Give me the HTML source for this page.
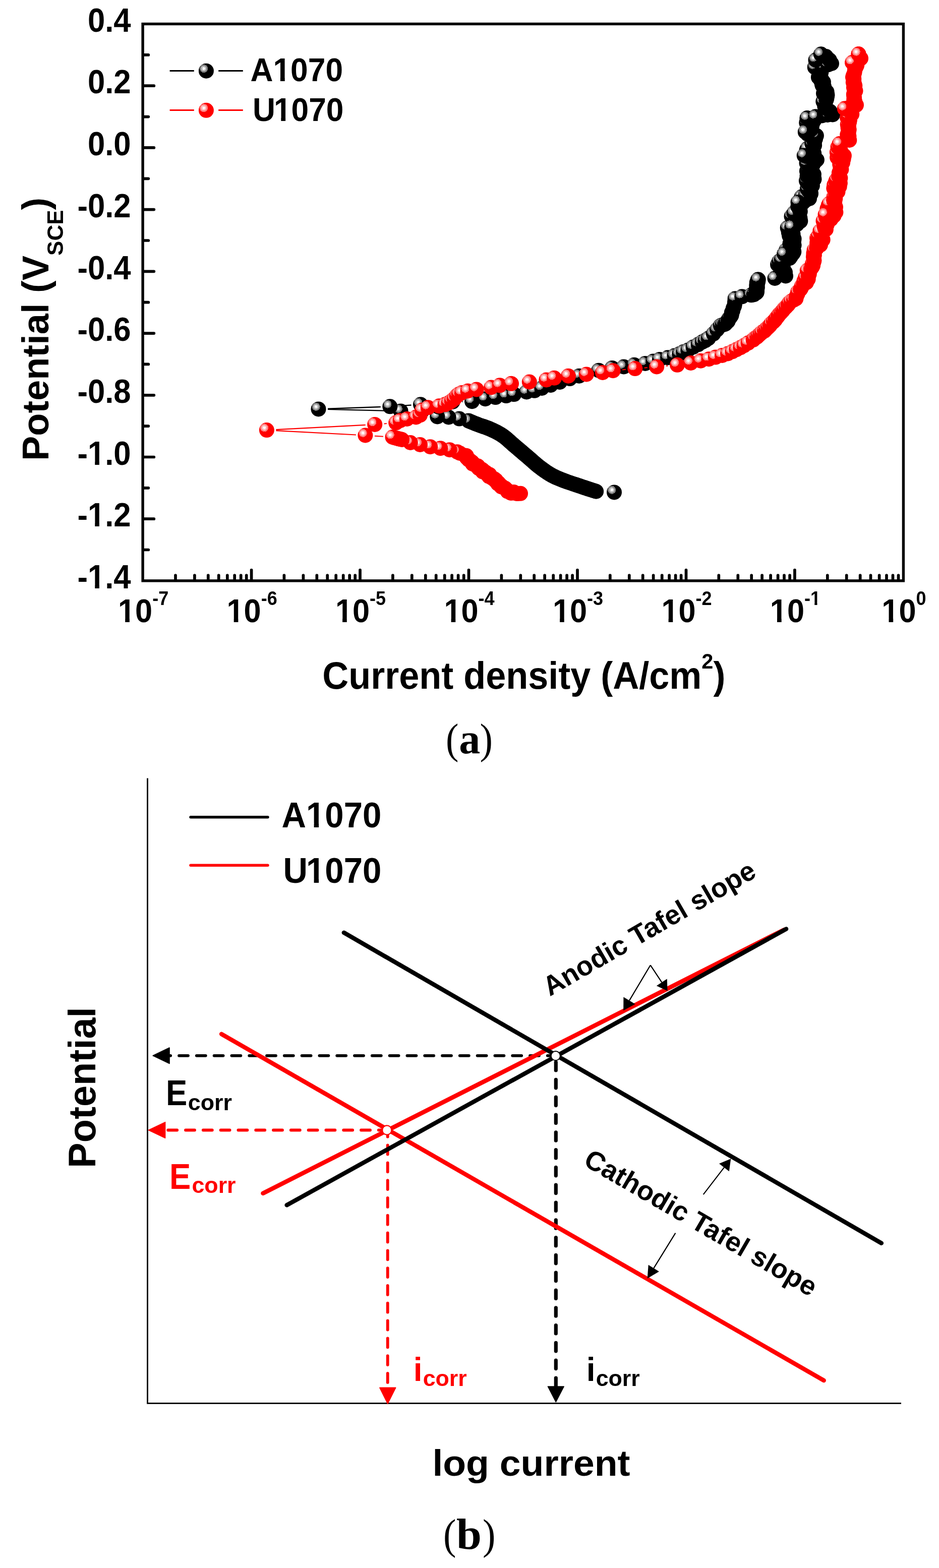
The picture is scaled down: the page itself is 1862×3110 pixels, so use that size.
<!DOCTYPE html>
<html lang="en"><head><meta charset="utf-8"><title>Potentiodynamic polarization curves and Tafel schematic</title>
<style>html,body{margin:0;padding:0;background:#fff}body{width:1862px;height:3110px;overflow:hidden}svg{display:block}text{font-family:'Liberation Sans', Arial, Helvetica, sans-serif;font-weight:bold}.serif text{font-family:'Liberation Serif', 'Times New Roman', serif}.nk{font-kerning:none}</style>
</head><body>
<svg width="1862" height="3110" viewBox="0 0 1862 3110">
<defs>
<radialGradient id="gk" gradientUnits="objectBoundingBox" cx="0.34" cy="0.343" fx="0.34" fy="0.343" r="0.272"><stop offset="0" stop-color="#fff"/><stop offset="0.32" stop-color="#fff"/><stop offset="0.32" stop-color="#c0c0c0"/><stop offset="0.65" stop-color="#c0c0c0"/><stop offset="0.65" stop-color="#808080"/><stop offset="0.975" stop-color="#808080"/><stop offset="0.975" stop-color="#000"/></radialGradient>
<radialGradient id="gr" gradientUnits="objectBoundingBox" cx="0.34" cy="0.343" fx="0.34" fy="0.343" r="0.272"><stop offset="0" stop-color="#fff"/><stop offset="0.32" stop-color="#fff"/><stop offset="0.32" stop-color="#ffc0c0"/><stop offset="0.65" stop-color="#ffc0c0"/><stop offset="0.65" stop-color="#ff8080"/><stop offset="0.975" stop-color="#ff8080"/><stop offset="0.975" stop-color="#f00"/></radialGradient>
</defs>
<rect x="0" y="0" width="1862" height="3110" fill="#fff"/>
<g id="chart-a">
<path d="M849 823.7L812.9 818.2M776.1 814.9L650 811.9M650 810.7L754.8 807M791.8 805.1L815.5 803.5M916 796.5L917.5 796.5M1166.2 740.7L1169.4 739.7" stroke="#000" stroke-width="2.4" fill="none" stroke-linecap="butt"/>
<g fill="url(#gk)"><circle cx="1218" cy="976.4" r="15"/><circle cx="1182.1" cy="974.7" r="15"/><circle cx="1180" cy="974" r="15"/><circle cx="1177.4" cy="973.2" r="15"/><circle cx="1175" cy="972.4" r="15"/><circle cx="1172.1" cy="971.5" r="15"/><circle cx="1169.6" cy="970.7" r="15"/><circle cx="1166.9" cy="969.8" r="15"/><circle cx="1163.8" cy="968.8" r="15"/><circle cx="1160.3" cy="967.6" r="15"/><circle cx="1157.7" cy="966.8" r="15"/><circle cx="1155.1" cy="965.9" r="15"/><circle cx="1152.4" cy="965" r="15"/><circle cx="1149.8" cy="964.1" r="15"/><circle cx="1147.1" cy="963.2" r="15"/><circle cx="1144.5" cy="962.3" r="15"/><circle cx="1142" cy="961.5" r="15"/><circle cx="1139.6" cy="960.7" r="15"/><circle cx="1137.2" cy="959.9" r="15"/><circle cx="1133.6" cy="958.7" r="15"/><circle cx="1130.1" cy="957.5" r="15"/><circle cx="1126.6" cy="956.4" r="15"/><circle cx="1123.1" cy="955.1" r="15"/><circle cx="1120.7" cy="954.2" r="15"/><circle cx="1118.3" cy="953.3" r="15"/><circle cx="1115.9" cy="952.4" r="15"/><circle cx="1113.5" cy="951.4" r="15"/><circle cx="1111.1" cy="950.5" r="15"/><circle cx="1108.6" cy="949.5" r="15"/><circle cx="1106.2" cy="948.5" r="15"/><circle cx="1103.7" cy="947.4" r="15"/><circle cx="1101.3" cy="946.3" r="15"/><circle cx="1098.9" cy="945.1" r="15"/><circle cx="1096.4" cy="943.9" r="15"/><circle cx="1094" cy="942.6" r="15"/><circle cx="1091.6" cy="941.2" r="15"/><circle cx="1089.2" cy="939.8" r="15"/><circle cx="1086.7" cy="938.2" r="15"/><circle cx="1084.3" cy="936.7" r="15"/><circle cx="1081.9" cy="935" r="15"/><circle cx="1079.5" cy="933.3" r="15"/><circle cx="1077.1" cy="931.6" r="15"/><circle cx="1074.6" cy="929.8" r="15"/><circle cx="1072.2" cy="928" r="15"/><circle cx="1069.8" cy="926.2" r="15"/><circle cx="1067.4" cy="924.3" r="15"/><circle cx="1065" cy="922.3" r="15"/><circle cx="1062.5" cy="920.3" r="15"/><circle cx="1060.1" cy="918.2" r="15"/><circle cx="1057.7" cy="916.1" r="15"/><circle cx="1055.3" cy="914" r="15"/><circle cx="1052.9" cy="911.8" r="15"/><circle cx="1050.4" cy="909.7" r="15"/><circle cx="1048" cy="907.6" r="15"/><circle cx="1045.6" cy="905.5" r="15"/><circle cx="1043.2" cy="903.4" r="15"/><circle cx="1040.7" cy="901.4" r="15"/><circle cx="1038.3" cy="899.3" r="15"/><circle cx="1035.9" cy="897.3" r="15"/><circle cx="1033.5" cy="895.2" r="15"/><circle cx="1031" cy="893.1" r="15"/><circle cx="1028.6" cy="891.1" r="15"/><circle cx="1026.2" cy="889" r="15"/><circle cx="1023.7" cy="887" r="15"/><circle cx="1021.3" cy="884.9" r="15"/><circle cx="1018.9" cy="882.8" r="15"/><circle cx="1016.4" cy="880.7" r="15"/><circle cx="1014" cy="878.5" r="15"/><circle cx="1011.6" cy="876.3" r="15"/><circle cx="1009.1" cy="874.1" r="15"/><circle cx="1006.7" cy="872" r="15"/><circle cx="1004.3" cy="869.9" r="15"/><circle cx="1001.9" cy="867.9" r="15"/><circle cx="999.4" cy="866" r="15"/><circle cx="997" cy="864.3" r="15"/><circle cx="994.6" cy="862.7" r="15"/><circle cx="992.2" cy="861.2" r="15"/><circle cx="989.7" cy="859.7" r="15"/><circle cx="987.3" cy="858.4" r="15"/><circle cx="984.9" cy="857.1" r="15"/><circle cx="982.5" cy="855.9" r="15"/><circle cx="980.1" cy="854.7" r="15"/><circle cx="977.6" cy="853.6" r="15"/><circle cx="975.2" cy="852.5" r="15"/><circle cx="972.8" cy="851.4" r="15"/><circle cx="970.4" cy="850.3" r="15"/><circle cx="967.9" cy="849.3" r="15"/><circle cx="965.4" cy="848.4" r="15"/><circle cx="962.9" cy="847.5" r="15"/><circle cx="960.4" cy="846.6" r="15"/><circle cx="957.9" cy="845.8" r="15"/><circle cx="955.4" cy="845" r="15"/><circle cx="953.1" cy="844.2" r="15"/><circle cx="949.6" cy="842.9" r="15"/><circle cx="946.3" cy="841.6" r="15"/><circle cx="942.8" cy="840.3" r="15"/><circle cx="939.4" cy="838.9" r="15"/><circle cx="936.2" cy="837.6" r="15"/><circle cx="933.3" cy="836.4" r="15"/><circle cx="930.8" cy="835.3" r="15"/><circle cx="929" cy="834.6" r="15"/><circle cx="910.8" cy="830.6" r="15"/><circle cx="889.6" cy="827.5" r="15"/><circle cx="867.3" cy="826.5" r="15"/><circle cx="794.6" cy="815.4" r="15"/><circle cx="631.5" cy="811.4" r="15"/><circle cx="773.3" cy="806.3" r="15"/><circle cx="834" cy="802.3" r="15"/><circle cx="869.5" cy="807" r="15"/><circle cx="897.5" cy="796.8" r="15"/><circle cx="936" cy="796.2" r="15"/><circle cx="962.3" cy="791.2" r="15"/><circle cx="982.6" cy="788.1" r="15"/><circle cx="1003.8" cy="785.1" r="15"/><circle cx="1019.4" cy="782.1" r="15"/><circle cx="1044.2" cy="777.4" r="15"/><circle cx="1059.8" cy="774.8" r="15"/><circle cx="1074.4" cy="769.9" r="15"/><circle cx="1092" cy="764" r="15"/><circle cx="1110" cy="758" r="15"/><circle cx="1130" cy="751" r="15"/><circle cx="1148.4" cy="745.7" r="15"/><circle cx="1187.2" cy="734.7" r="15"/><circle cx="1213.9" cy="729.9" r="15"/><circle cx="1236.9" cy="727.5" r="15"/><circle cx="1257.6" cy="723.8" r="15"/><circle cx="1279.4" cy="720.9" r="15"/><circle cx="1295.2" cy="716.6" r="15"/><circle cx="1308" cy="712.9" r="15"/><circle cx="1324.3" cy="709.3" r="15"/><circle cx="1337.6" cy="705.6" r="15"/><circle cx="1347.3" cy="702" r="15"/><circle cx="1355" cy="698" r="15"/><circle cx="1364.2" cy="694.5" r="15"/><circle cx="1374.4" cy="688.4" r="15"/><circle cx="1384.5" cy="683.3" r="15"/><circle cx="1392.5" cy="678.3" r="15"/><circle cx="1398.6" cy="675.3" r="15"/><circle cx="1404.7" cy="671.2" r="15"/><circle cx="1414.8" cy="662.1" r="15"/><circle cx="1421.9" cy="654" r="15"/><circle cx="1428.9" cy="645.9" r="15"/><circle cx="1432.9" cy="644.5" r="15"/><circle cx="1437.1" cy="643.2" r="15"/><circle cx="1439" cy="641.8" r="15"/><circle cx="1440.5" cy="639.7" r="15"/><circle cx="1443.7" cy="637.1" r="15"/><circle cx="1444.2" cy="634.4" r="15"/><circle cx="1445.8" cy="631.4" r="15"/><circle cx="1448.6" cy="628.6" r="15"/><circle cx="1450.5" cy="625.5" r="15"/><circle cx="1450.9" cy="622.5" r="15"/><circle cx="1450.9" cy="619.6" r="15"/><circle cx="1453" cy="616.6" r="15"/><circle cx="1453.4" cy="613.8" r="15"/><circle cx="1454.2" cy="610.5" r="15"/><circle cx="1456" cy="607.6" r="15"/><circle cx="1456.7" cy="604.5" r="15"/><circle cx="1456.9" cy="601.5" r="15"/><circle cx="1457.2" cy="598.2" r="15"/><circle cx="1458.7" cy="594.8" r="15"/><circle cx="1458.4" cy="592.4" r="15"/><circle cx="1457.6" cy="592.4" r="15"/><circle cx="1471.4" cy="588.3" r="15"/><circle cx="1489.6" cy="585.3" r="15"/><circle cx="1494.6" cy="584.5" r="15"/><circle cx="1496.2" cy="583" r="15"/><circle cx="1498.9" cy="581.5" r="15"/><circle cx="1500.7" cy="580" r="15"/><circle cx="1501.1" cy="577.2" r="15"/><circle cx="1499.4" cy="574.5" r="15"/><circle cx="1501.5" cy="571.7" r="15"/><circle cx="1501.8" cy="568.9" r="15"/><circle cx="1500.2" cy="566.1" r="15"/><circle cx="1501.8" cy="563.4" r="15"/><circle cx="1500.7" cy="560.6" r="15"/><circle cx="1503.2" cy="558.6" r="15"/><circle cx="1502.2" cy="556.6" r="15"/><circle cx="1502.9" cy="554.6" r="15"/><circle cx="1503.7" cy="554.6" r="15"/><circle cx="1536.5" cy="552" r="15"/><circle cx="1558" cy="547.5" r="15"/><circle cx="1557" cy="540" r="15"/><circle cx="1553" cy="531" r="15"/><circle cx="1542.1" cy="524.7" r="15"/><circle cx="1550.2" cy="525" r="15"/><circle cx="1553.5" cy="521.8" r="15"/><circle cx="1544.9" cy="518.6" r="15"/><circle cx="1549.8" cy="515.4" r="15"/><circle cx="1565.7" cy="512.2" r="15"/><circle cx="1568" cy="509" r="15"/><circle cx="1566.1" cy="505.8" r="15"/><circle cx="1572.6" cy="502.6" r="15"/><circle cx="1574.3" cy="499.4" r="15"/><circle cx="1559" cy="496.2" r="15"/><circle cx="1568.1" cy="493" r="15"/><circle cx="1573" cy="489.8" r="15"/><circle cx="1574.6" cy="486.6" r="15"/><circle cx="1566.4" cy="483.4" r="15"/><circle cx="1568.7" cy="480.2" r="15"/><circle cx="1574.1" cy="477" r="15"/><circle cx="1574.6" cy="473.8" r="15"/><circle cx="1566.7" cy="470.6" r="15"/><circle cx="1565.1" cy="467.4" r="15"/><circle cx="1572.5" cy="464.2" r="15"/><circle cx="1563.8" cy="461" r="15"/><circle cx="1563.6" cy="457.8" r="15"/><circle cx="1569.2" cy="454.6" r="15"/><circle cx="1569.6" cy="451.4" r="15"/><circle cx="1568.5" cy="448.2" r="15"/><circle cx="1580.4" cy="445" r="15"/><circle cx="1580.5" cy="441.8" r="15"/><circle cx="1587.3" cy="438.6" r="15"/><circle cx="1573.8" cy="435.4" r="15"/><circle cx="1586.4" cy="432.2" r="15"/><circle cx="1569.5" cy="429" r="15"/><circle cx="1580.8" cy="425.8" r="15"/><circle cx="1574.4" cy="422.6" r="15"/><circle cx="1586.8" cy="419.4" r="15"/><circle cx="1585.8" cy="416.2" r="15"/><circle cx="1585.8" cy="413" r="15"/><circle cx="1582.3" cy="409.8" r="15"/><circle cx="1588.1" cy="406.6" r="15"/><circle cx="1590.8" cy="403.4" r="15"/><circle cx="1593.9" cy="400.2" r="15"/><circle cx="1597.8" cy="397" r="15"/><circle cx="1605" cy="393.8" r="15"/><circle cx="1589.5" cy="390.6" r="15"/><circle cx="1597.7" cy="387.4" r="15"/><circle cx="1608" cy="384.2" r="15"/><circle cx="1607.5" cy="381" r="15"/><circle cx="1603.2" cy="377.8" r="15"/><circle cx="1600.9" cy="374.6" r="15"/><circle cx="1607.2" cy="371.4" r="15"/><circle cx="1610.9" cy="368.2" r="15"/><circle cx="1607.8" cy="365" r="15"/><circle cx="1600.6" cy="361.8" r="15"/><circle cx="1598.9" cy="358.6" r="15"/><circle cx="1614.5" cy="355.4" r="15"/><circle cx="1606.8" cy="352.2" r="15"/><circle cx="1600.5" cy="349" r="15"/><circle cx="1613.9" cy="345.8" r="15"/><circle cx="1611.6" cy="342.6" r="15"/><circle cx="1599.9" cy="339.4" r="15"/><circle cx="1601.3" cy="336.2" r="15"/><circle cx="1609" cy="333" r="15"/><circle cx="1603.7" cy="329.8" r="15"/><circle cx="1612.3" cy="326.6" r="15"/><circle cx="1599.5" cy="323.4" r="15"/><circle cx="1616.4" cy="320.2" r="15"/><circle cx="1619.9" cy="317" r="15"/><circle cx="1613.5" cy="313.8" r="15"/><circle cx="1600.9" cy="310.6" r="15"/><circle cx="1596.7" cy="307.4" r="15"/><circle cx="1614.2" cy="304.2" r="15"/><circle cx="1610.3" cy="301" r="15"/><circle cx="1599.5" cy="297.8" r="15"/><circle cx="1601.3" cy="294.6" r="15"/><circle cx="1612.9" cy="291.4" r="15"/><circle cx="1615.1" cy="288.2" r="15"/><circle cx="1610.2" cy="285" r="15"/><circle cx="1614.8" cy="281.8" r="15"/><circle cx="1615.4" cy="278.6" r="15"/><circle cx="1617" cy="275.4" r="15"/><circle cx="1610.4" cy="272.2" r="15"/><circle cx="1618.9" cy="269" r="15"/><circle cx="1601.4" cy="265.8" r="15"/><circle cx="1602.5" cy="262.6" r="15"/><circle cx="1599.8" cy="259.4" r="15"/><circle cx="1609" cy="256.2" r="15"/><circle cx="1602.8" cy="253" r="15"/><circle cx="1610.1" cy="249.8" r="15"/><circle cx="1601.7" cy="246.6" r="15"/><circle cx="1599.2" cy="243.4" r="15"/><circle cx="1613.5" cy="240.2" r="15"/><circle cx="1615.3" cy="237" r="15"/><circle cx="1600.6" cy="234.3" r="15"/><circle cx="1617.2" cy="231.5" r="15"/><circle cx="1630" cy="229.5" r="15"/><circle cx="1641" cy="228" r="15"/><circle cx="1651" cy="227.5" r="15"/><circle cx="1646" cy="221" r="15"/><circle cx="1637" cy="214" r="15"/><circle cx="1635.3" cy="210.8" r="15"/><circle cx="1636.4" cy="207.6" r="15"/><circle cx="1635.7" cy="204.4" r="15"/><circle cx="1632.3" cy="201.2" r="15"/><circle cx="1638.5" cy="198" r="15"/><circle cx="1639.4" cy="194.8" r="15"/><circle cx="1639.8" cy="191.6" r="15"/><circle cx="1640.5" cy="188.4" r="15"/><circle cx="1633" cy="185.2" r="15"/><circle cx="1639.6" cy="182" r="15"/><circle cx="1634.6" cy="178.8" r="15"/><circle cx="1633.8" cy="175.6" r="15"/><circle cx="1634.2" cy="172.4" r="15"/><circle cx="1630.5" cy="169.2" r="15"/><circle cx="1629.8" cy="166" r="15"/><circle cx="1632.9" cy="162.8" r="15"/><circle cx="1627.5" cy="159.6" r="15"/><circle cx="1628.8" cy="156.4" r="15"/><circle cx="1622.9" cy="153.2" r="15"/><circle cx="1623.8" cy="150" r="15"/><circle cx="1626.8" cy="146.8" r="15"/><circle cx="1628.3" cy="143.6" r="15"/><circle cx="1623.4" cy="140.4" r="15"/><circle cx="1627.1" cy="137.2" r="15"/><circle cx="1620" cy="134" r="15"/><circle cx="1615.7" cy="133.4" r="15"/><circle cx="1632" cy="131" r="15"/><circle cx="1642" cy="128.5" r="15"/><circle cx="1649" cy="126" r="15"/><circle cx="1645" cy="119" r="15"/><circle cx="1617.5" cy="119.2" r="15"/><circle cx="1638" cy="112" r="15"/><circle cx="1628" cy="107.5" r="15"/><circle cx="1555.1" cy="503.8" r="15"/><circle cx="1561.7" cy="451.9" r="15"/><circle cx="1570.2" cy="450" r="15"/><circle cx="1582.5" cy="401" r="15"/><circle cx="1594.7" cy="308.5" r="15"/><circle cx="1596.8" cy="261.7" r="15"/><circle cx="1600.6" cy="234.3" r="15"/><circle cx="1617.2" cy="231.5" r="15"/><circle cx="1628" cy="107.5" r="15"/></g>
<path d="M760 865.8L742.9 864.7M705.9 862.5L547.4 854.1M547.4 852.1L724.7 842.9M761.6 840.5L766.8 840M1234 733.5L1240.9 732.8M1277.7 729.6L1283.8 729M1320.6 725.8L1324.6 725.5" stroke="#f00" stroke-width="2.1" fill="none" stroke-linecap="butt"/>
<g fill="url(#gr)"><circle cx="1032" cy="978.8" r="15"/><circle cx="1026.2" cy="979.1" r="15"/><circle cx="1024.4" cy="978.8" r="15"/><circle cx="1019.5" cy="977.6" r="15"/><circle cx="1018.8" cy="976.1" r="15"/><circle cx="1013.4" cy="977.8" r="15"/><circle cx="1013.2" cy="977.7" r="15"/><circle cx="1006.4" cy="974.6" r="15"/><circle cx="1005.8" cy="972.3" r="15"/><circle cx="1001.9" cy="968.5" r="15"/><circle cx="996.7" cy="966.1" r="15"/><circle cx="994.1" cy="965.4" r="15"/><circle cx="993.7" cy="963.2" r="15"/><circle cx="989.5" cy="959.7" r="15"/><circle cx="987.3" cy="959.5" r="15"/><circle cx="988.3" cy="957.7" r="15"/><circle cx="981.9" cy="952.9" r="15"/><circle cx="983.2" cy="952.2" r="15"/><circle cx="980" cy="949.7" r="15"/><circle cx="976.2" cy="948.3" r="15"/><circle cx="973.7" cy="946.5" r="15"/><circle cx="969.4" cy="944.8" r="15"/><circle cx="970.6" cy="941.2" r="15"/><circle cx="966.5" cy="941" r="15"/><circle cx="963.8" cy="937.3" r="15"/><circle cx="960.3" cy="936.4" r="15"/><circle cx="957.2" cy="935.7" r="15"/><circle cx="958.2" cy="933.3" r="15"/><circle cx="955.9" cy="931.2" r="15"/><circle cx="951.3" cy="929.2" r="15"/><circle cx="949.1" cy="928.7" r="15"/><circle cx="947.9" cy="924.6" r="15"/><circle cx="945.9" cy="924.4" r="15"/><circle cx="941.8" cy="922" r="15"/><circle cx="937" cy="919.8" r="15"/><circle cx="936.2" cy="916.7" r="15"/><circle cx="933.2" cy="914.3" r="15"/><circle cx="929.2" cy="911.6" r="15"/><circle cx="925.6" cy="907.9" r="15"/><circle cx="925" cy="904" r="15"/><circle cx="922.4" cy="903.4" r="15"/><circle cx="912.1" cy="899" r="15"/><circle cx="906.8" cy="896.3" r="15"/><circle cx="891.6" cy="892.2" r="15"/><circle cx="873.4" cy="889.2" r="15"/><circle cx="853.2" cy="886.2" r="15"/><circle cx="833" cy="882" r="15"/><circle cx="813.8" cy="878" r="15"/><circle cx="797.2" cy="872" r="15"/><circle cx="795" cy="871.3" r="15"/><circle cx="791.4" cy="870.6" r="15"/><circle cx="789.1" cy="869.9" r="15"/><circle cx="786.2" cy="869.2" r="15"/><circle cx="783.9" cy="868.5" r="15"/><circle cx="781.4" cy="867.8" r="15"/><circle cx="778.5" cy="867" r="15"/><circle cx="724.4" cy="863.5" r="15"/><circle cx="528.9" cy="853.1" r="15"/><circle cx="743.2" cy="841.9" r="15"/><circle cx="785.2" cy="838.6" r="15"/><circle cx="793.5" cy="834.2" r="15"/><circle cx="807.1" cy="831" r="15"/><circle cx="824.9" cy="827.5" r="15"/><circle cx="833" cy="823.5" r="15"/><circle cx="837" cy="813.4" r="15"/><circle cx="848.7" cy="808.3" r="15"/><circle cx="870.8" cy="805.3" r="15"/><circle cx="882.5" cy="802.3" r="15"/><circle cx="889.6" cy="799.2" r="15"/><circle cx="895.7" cy="795.2" r="15"/><circle cx="900.7" cy="791.2" r="15"/><circle cx="905.8" cy="785.1" r="15"/><circle cx="909.8" cy="782.1" r="15"/><circle cx="915.9" cy="779" r="15"/><circle cx="927.6" cy="775.4" r="15"/><circle cx="944.8" cy="772.4" r="15"/><circle cx="974" cy="768.5" r="15"/><circle cx="991" cy="764.3" r="15"/><circle cx="1014" cy="760.8" r="15"/><circle cx="1049.8" cy="757.5" r="15"/><circle cx="1083.4" cy="753.4" r="15"/><circle cx="1099.1" cy="749.8" r="15"/><circle cx="1127" cy="745.7" r="15"/><circle cx="1162.9" cy="742.5" r="15"/><circle cx="1195" cy="738.9" r="15"/><circle cx="1215.6" cy="735.2" r="15"/><circle cx="1259.3" cy="731.1" r="15"/><circle cx="1302.2" cy="727.5" r="15"/><circle cx="1343" cy="723.8" r="15"/><circle cx="1369.8" cy="720" r="15"/><circle cx="1389.5" cy="715.7" r="15"/><circle cx="1405.7" cy="712.2" r="15"/><circle cx="1418.8" cy="708.6" r="15"/><circle cx="1432" cy="705" r="15"/><circle cx="1443.1" cy="701.5" r="15"/><circle cx="1452.2" cy="697.5" r="15"/><circle cx="1460.3" cy="693.5" r="15"/><circle cx="1468.3" cy="689.4" r="15"/><circle cx="1475.4" cy="685.4" r="15"/><circle cx="1483.5" cy="680.3" r="15"/><circle cx="1493.6" cy="674.2" r="15"/><circle cx="1496.2" cy="671.5" r="15"/><circle cx="1501" cy="668.4" r="15"/><circle cx="1504" cy="665.4" r="15"/><circle cx="1507.4" cy="662.3" r="15"/><circle cx="1510.9" cy="659.3" r="15"/><circle cx="1516.1" cy="656.2" r="15"/><circle cx="1519.1" cy="652.9" r="15"/><circle cx="1522.9" cy="649.4" r="15"/><circle cx="1526.6" cy="645.7" r="15"/><circle cx="1529.3" cy="641.9" r="15"/><circle cx="1534" cy="637.8" r="15"/><circle cx="1537.3" cy="634.3" r="15"/><circle cx="1539.6" cy="630.7" r="15"/><circle cx="1542.7" cy="627.1" r="15"/><circle cx="1545" cy="623.6" r="15"/><circle cx="1548.5" cy="620.1" r="15"/><circle cx="1551.9" cy="616.5" r="15"/><circle cx="1554.6" cy="612.9" r="15"/><circle cx="1558.6" cy="608.9" r="15"/><circle cx="1562.6" cy="604.7" r="15"/><circle cx="1565" cy="600.9" r="15"/><circle cx="1568.9" cy="597.4" r="15"/><circle cx="1574" cy="595" r="15"/><circle cx="1578.4" cy="592.3" r="15"/><circle cx="1579.3" cy="587.7" r="15"/><circle cx="1581.7" cy="582.8" r="15"/><circle cx="1582.1" cy="579.2" r="15"/><circle cx="1587.2" cy="574" r="15"/><circle cx="1589.2" cy="570.6" r="15"/><circle cx="1589.9" cy="567.2" r="15"/><circle cx="1593.2" cy="563.8" r="15"/><circle cx="1599" cy="560.4" r="15"/><circle cx="1594.5" cy="557" r="15"/><circle cx="1602.7" cy="553.6" r="15"/><circle cx="1597.2" cy="550.2" r="15"/><circle cx="1602.7" cy="546.8" r="15"/><circle cx="1604.8" cy="543.4" r="15"/><circle cx="1604.2" cy="540" r="15"/><circle cx="1600.8" cy="536.6" r="15"/><circle cx="1607.9" cy="533.2" r="15"/><circle cx="1610.4" cy="529.8" r="15"/><circle cx="1612.1" cy="526.4" r="15"/><circle cx="1610.9" cy="523" r="15"/><circle cx="1613.7" cy="519.6" r="15"/><circle cx="1614.5" cy="516.2" r="15"/><circle cx="1613.8" cy="512.8" r="15"/><circle cx="1612.9" cy="509.4" r="15"/><circle cx="1614.9" cy="506" r="15"/><circle cx="1613.4" cy="502.6" r="15"/><circle cx="1614.8" cy="499.2" r="15"/><circle cx="1614.6" cy="495.8" r="15"/><circle cx="1619.4" cy="492.4" r="15"/><circle cx="1621.1" cy="489" r="15"/><circle cx="1627" cy="485.6" r="15"/><circle cx="1620.2" cy="482.2" r="15"/><circle cx="1620.6" cy="478.8" r="15"/><circle cx="1631.7" cy="475.4" r="15"/><circle cx="1620.1" cy="472" r="15"/><circle cx="1623" cy="468.6" r="15"/><circle cx="1628.3" cy="465.2" r="15"/><circle cx="1630.6" cy="461.8" r="15"/><circle cx="1626.3" cy="458.4" r="15"/><circle cx="1637.9" cy="455" r="15"/><circle cx="1635.2" cy="451.6" r="15"/><circle cx="1634.5" cy="448.2" r="15"/><circle cx="1640.2" cy="444.8" r="15"/><circle cx="1638.5" cy="441.4" r="15"/><circle cx="1632.5" cy="438" r="15"/><circle cx="1647.9" cy="434.6" r="15"/><circle cx="1638.3" cy="431.2" r="15"/><circle cx="1653.7" cy="427.8" r="15"/><circle cx="1641.9" cy="424.4" r="15"/><circle cx="1657.4" cy="421" r="15"/><circle cx="1641.2" cy="417.6" r="15"/><circle cx="1640.3" cy="414.2" r="15"/><circle cx="1657" cy="410.8" r="15"/><circle cx="1642.7" cy="407.4" r="15"/><circle cx="1644.3" cy="404" r="15"/><circle cx="1655.2" cy="400.6" r="15"/><circle cx="1653.1" cy="397.2" r="15"/><circle cx="1656.3" cy="393.8" r="15"/><circle cx="1653.7" cy="390.4" r="15"/><circle cx="1656.9" cy="387" r="15"/><circle cx="1657.2" cy="383.6" r="15"/><circle cx="1661.5" cy="380.2" r="15"/><circle cx="1656.8" cy="376.8" r="15"/><circle cx="1653.3" cy="373.4" r="15"/><circle cx="1664.7" cy="370" r="15"/><circle cx="1654.3" cy="366.6" r="15"/><circle cx="1665.9" cy="363.2" r="15"/><circle cx="1657.2" cy="359.8" r="15"/><circle cx="1659" cy="356.4" r="15"/><circle cx="1666.4" cy="353" r="15"/><circle cx="1663.2" cy="349.6" r="15"/><circle cx="1663.8" cy="346.2" r="15"/><circle cx="1663.9" cy="342.8" r="15"/><circle cx="1665.5" cy="339.4" r="15"/><circle cx="1668.4" cy="336" r="15"/><circle cx="1666.5" cy="332.6" r="15"/><circle cx="1667.3" cy="329.2" r="15"/><circle cx="1665.2" cy="325.8" r="15"/><circle cx="1671.1" cy="322.4" r="15"/><circle cx="1669.7" cy="319" r="15"/><circle cx="1672.6" cy="315.6" r="15"/><circle cx="1660.1" cy="312.2" r="15"/><circle cx="1673.9" cy="308.8" r="15"/><circle cx="1663.3" cy="305.4" r="15"/><circle cx="1659.8" cy="302" r="15"/><circle cx="1666.8" cy="298.6" r="15"/><circle cx="1665.6" cy="295.2" r="15"/><circle cx="1661.5" cy="291.8" r="15"/><circle cx="1664.7" cy="285.3" r="15"/><circle cx="1684.3" cy="278" r="15"/><circle cx="1682.1" cy="274" r="15"/><circle cx="1683.4" cy="270.6" r="15"/><circle cx="1680.2" cy="267.2" r="15"/><circle cx="1682.6" cy="263.8" r="15"/><circle cx="1682.5" cy="260.4" r="15"/><circle cx="1683.7" cy="257" r="15"/><circle cx="1681.6" cy="253.6" r="15"/><circle cx="1682.9" cy="250.2" r="15"/><circle cx="1680.7" cy="246.8" r="15"/><circle cx="1683.8" cy="243.4" r="15"/><circle cx="1684.5" cy="240" r="15"/><circle cx="1685.1" cy="236.6" r="15"/><circle cx="1680.1" cy="233.2" r="15"/><circle cx="1681.6" cy="229.8" r="15"/><circle cx="1689.3" cy="226.4" r="15"/><circle cx="1688" cy="223" r="15"/><circle cx="1675" cy="215.5" r="15"/><circle cx="1683.6" cy="213.6" r="15"/><circle cx="1698" cy="208.3" r="15"/><circle cx="1693.7" cy="204" r="15"/><circle cx="1695" cy="200.6" r="15"/><circle cx="1693.2" cy="197.2" r="15"/><circle cx="1694.1" cy="193.8" r="15"/><circle cx="1693.3" cy="190.4" r="15"/><circle cx="1692.8" cy="187" r="15"/><circle cx="1693.9" cy="183.6" r="15"/><circle cx="1696.5" cy="180.2" r="15"/><circle cx="1694.2" cy="176.8" r="15"/><circle cx="1692.9" cy="173.4" r="15"/><circle cx="1695.3" cy="170" r="15"/><circle cx="1694.2" cy="166.6" r="15"/><circle cx="1691.8" cy="163.2" r="15"/><circle cx="1693.2" cy="159.8" r="15"/><circle cx="1693.3" cy="156.4" r="15"/><circle cx="1691" cy="153" r="15"/><circle cx="1692.1" cy="149.6" r="15"/><circle cx="1693.7" cy="146.2" r="15"/><circle cx="1694.6" cy="142.8" r="15"/><circle cx="1694.9" cy="139.4" r="15"/><circle cx="1695" cy="136" r="15"/><circle cx="1697.8" cy="132.6" r="15"/><circle cx="1699.2" cy="129.2" r="15"/><circle cx="1690.2" cy="124" r="15"/><circle cx="1700" cy="121" r="15"/><circle cx="1707" cy="115.8" r="15"/><circle cx="1702.5" cy="107.3" r="15"/><circle cx="1636.6" cy="425.5" r="15"/><circle cx="1664.7" cy="285.3" r="15"/><circle cx="1675" cy="215.5" r="15"/><circle cx="1690.2" cy="124" r="15"/><circle cx="1702.5" cy="107.3" r="15"/></g>
<rect x="283.1" y="47.5" width="1508.3" height="1104.4" fill="none" stroke="#000" stroke-width="5.4"/>
<path d="M284.1 108.9h10.2M284.1 170.2h21.2M284.1 231.6h10.2M284.1 292.9h21.2M284.1 354.3h10.2M284.1 415.6h21.2M284.1 477h10.2M284.1 538.3h21.2M284.1 599.7h10.2M284.1 661.1h21.2M284.1 722.4h10.2M284.1 783.8h21.2M284.1 845.1h10.2M284.1 906.5h21.2M284.1 967.8h10.2M284.1 1029.2h21.2M284.1 1090.5h10.2M348 1150.9v-9.8M385.9 1150.9v-9.8M412.8 1150.9v-9.8M433.7 1150.9v-9.8M450.8 1150.9v-9.8M465.2 1150.9v-9.8M477.7 1150.9v-9.8M488.7 1150.9v-9.8M498.6 1150.9v-20.4M563.4 1150.9v-9.8M601.4 1150.9v-9.8M628.3 1150.9v-9.8M649.2 1150.9v-9.8M666.2 1150.9v-9.8M680.7 1150.9v-9.8M693.2 1150.9v-9.8M704.2 1150.9v-9.8M714 1150.9v-20.4M778.9 1150.9v-9.8M816.8 1150.9v-9.8M843.8 1150.9v-9.8M864.7 1150.9v-9.8M881.7 1150.9v-9.8M896.1 1150.9v-9.8M908.6 1150.9v-9.8M919.7 1150.9v-9.8M929.5 1150.9v-20.4M994.4 1150.9v-9.8M1032.3 1150.9v-9.8M1059.2 1150.9v-9.8M1080.1 1150.9v-9.8M1097.2 1150.9v-9.8M1111.6 1150.9v-9.8M1124.1 1150.9v-9.8M1135.1 1150.9v-9.8M1145 1150.9v-20.4M1209.8 1150.9v-9.8M1247.8 1150.9v-9.8M1274.7 1150.9v-9.8M1295.6 1150.9v-9.8M1312.7 1150.9v-9.8M1327.1 1150.9v-9.8M1339.6 1150.9v-9.8M1350.6 1150.9v-9.8M1360.5 1150.9v-20.4M1425.3 1150.9v-9.8M1463.3 1150.9v-9.8M1490.2 1150.9v-9.8M1511.1 1150.9v-9.8M1528.1 1150.9v-9.8M1542.6 1150.9v-9.8M1555 1150.9v-9.8M1566.1 1150.9v-9.8M1575.9 1150.9v-20.4M1640.8 1150.9v-9.8M1678.7 1150.9v-9.8M1705.7 1150.9v-9.8M1726.5 1150.9v-9.8M1743.6 1150.9v-9.8M1758 1150.9v-9.8M1770.5 1150.9v-9.8M1781.5 1150.9v-9.8" stroke="#000" stroke-width="5.7" fill="none" stroke-linecap="round"/>
<g transform="translate(259.6 62.7) scale(1.0 1.07)"><text class="nk"><tspan x="-85.63" y="0" font-size="61.6">0.4</tspan></text></g>
<g transform="translate(259.6 185.4) scale(1.0 1.07)"><text class="nk"><tspan x="-85.63" y="0" font-size="61.6">0.2</tspan></text></g>
<g transform="translate(259.6 308.1) scale(1.0 1.07)"><text class="nk"><tspan x="-85.63" y="0" font-size="61.6">0.0</tspan></text></g>
<g transform="translate(259.6 430.8) scale(1.0 1.07)"><text class="nk"><tspan x="-106.15" y="0" font-size="61.6">-0.2</tspan></text></g>
<g transform="translate(259.6 553.5) scale(1.0 1.07)"><text class="nk"><tspan x="-106.15" y="0" font-size="61.6">-0.4</tspan></text></g>
<g transform="translate(259.6 676.3) scale(1.0 1.07)"><text class="nk"><tspan x="-106.15" y="0" font-size="61.6">-0.6</tspan></text></g>
<g transform="translate(259.6 799) scale(1.0 1.07)"><text class="nk"><tspan x="-106.15" y="0" font-size="61.6">-0.8</tspan></text></g>
<g transform="translate(259.6 921.7) scale(1.0 1.07)"><text class="nk"><tspan x="-106.15" y="0" font-size="61.6">-1.0</tspan></text><g fill="#fff"><rect x="-82.62" y="-7.09" width="11.27" height="7.69"/><rect x="-62.65" y="-7.09" width="10.56" height="7.69"/></g></g>
<g transform="translate(259.6 1044.4) scale(1.0 1.07)"><text class="nk"><tspan x="-106.15" y="0" font-size="61.6">-1.2</tspan></text><g fill="#fff"><rect x="-82.62" y="-7.09" width="11.27" height="7.69"/><rect x="-62.65" y="-7.09" width="10.56" height="7.69"/></g></g>
<g transform="translate(259.6 1167.1) scale(1.0 1.07)"><text class="nk"><tspan x="-106.15" y="0" font-size="61.6">-1.4</tspan></text><g fill="#fff"><rect x="-82.62" y="-7.09" width="11.27" height="7.69"/><rect x="-62.65" y="-7.09" width="10.56" height="7.69"/></g></g>
<g transform="translate(284.1 1234.4) scale(1.0 1.07)"><text class="nk"><tspan x="-50.1" y="0" font-size="61.3">10</tspan><tspan x="18.09" y="-32.2" font-size="36">-7</tspan></text><g fill="#fff"><rect x="-47.1" y="-7.06" width="11.21" height="7.66"/><rect x="-27.23" y="-7.06" width="10.51" height="7.66"/></g></g>
<g transform="translate(499.6 1234.4) scale(1.0 1.07)"><text class="nk"><tspan x="-50.1" y="0" font-size="61.3">10</tspan><tspan x="18.09" y="-32.2" font-size="36">-6</tspan></text><g fill="#fff"><rect x="-47.1" y="-7.06" width="11.21" height="7.66"/><rect x="-27.23" y="-7.06" width="10.51" height="7.66"/></g></g>
<g transform="translate(715 1234.4) scale(1.0 1.07)"><text class="nk"><tspan x="-50.1" y="0" font-size="61.3">10</tspan><tspan x="18.09" y="-32.2" font-size="36">-5</tspan></text><g fill="#fff"><rect x="-47.1" y="-7.06" width="11.21" height="7.66"/><rect x="-27.23" y="-7.06" width="10.51" height="7.66"/></g></g>
<g transform="translate(930.5 1234.4) scale(1.0 1.07)"><text class="nk"><tspan x="-50.1" y="0" font-size="61.3">10</tspan><tspan x="18.09" y="-32.2" font-size="36">-4</tspan></text><g fill="#fff"><rect x="-47.1" y="-7.06" width="11.21" height="7.66"/><rect x="-27.23" y="-7.06" width="10.51" height="7.66"/></g></g>
<g transform="translate(1146 1234.4) scale(1.0 1.07)"><text class="nk"><tspan x="-50.1" y="0" font-size="61.3">10</tspan><tspan x="18.09" y="-32.2" font-size="36">-3</tspan></text><g fill="#fff"><rect x="-47.1" y="-7.06" width="11.21" height="7.66"/><rect x="-27.23" y="-7.06" width="10.51" height="7.66"/></g></g>
<g transform="translate(1361.5 1234.4) scale(1.0 1.07)"><text class="nk"><tspan x="-50.1" y="0" font-size="61.3">10</tspan><tspan x="18.09" y="-32.2" font-size="36">-2</tspan></text><g fill="#fff"><rect x="-47.1" y="-7.06" width="11.21" height="7.66"/><rect x="-27.23" y="-7.06" width="10.51" height="7.66"/></g></g>
<g transform="translate(1576.9 1234.4) scale(1.0 1.07)"><text class="nk"><tspan x="-50.1" y="0" font-size="61.3">10</tspan><tspan x="18.09" y="-32.2" font-size="36">-1</tspan></text><g fill="#fff"><rect x="-47.1" y="-7.06" width="11.21" height="7.66"/><rect x="-27.23" y="-7.06" width="10.51" height="7.66"/><rect x="31.83" y="-36.67" width="6.54" height="5.07"/><rect x="43.57" y="-36.67" width="6.17" height="5.07"/></g></g>
<g transform="translate(1792.4 1234.4) scale(1.0 1.07)"><text class="nk"><tspan x="-44.1" y="0" font-size="61.3">10</tspan><tspan x="24.08" y="-32.2" font-size="36">0</tspan></text><g fill="#fff"><rect x="-41.11" y="-7.06" width="11.21" height="7.66"/><rect x="-21.23" y="-7.06" width="10.51" height="7.66"/></g></g>
<text transform="translate(96.3 914) rotate(-90)" font-size="74.0">Potential (V<tspan font-size="44" dy="28.8">SCE</tspan><tspan dy="-28.8">)</tspan></text>
<text transform="translate(639.3 1365.7) scale(1.0 1.045)" font-size="72">Current density (A/cm<tspan font-size="41.5" dy="-38.4">2</tspan><tspan dy="38.4">)</tspan></text>
<path d="M336.6 140.4H384.8M433.2 140.4H481.8" stroke="#000" stroke-width="3"/>
<circle cx="408.9" cy="140.7" r="15" fill="url(#gk)"/>
<path d="M336.6 218.4H384.8M433.2 218.4H481.8" stroke="#f00" stroke-width="3"/>
<circle cx="408.9" cy="218.8" r="15" fill="url(#gr)"/>
<g transform="translate(496.5 161.2) scale(1.0 1.035)"><text class="nk"><tspan x="0" y="0" font-size="62.3">A1070</tspan></text><g fill="#fff"><rect x="48.03" y="-7.16" width="11.4" height="7.76"/><rect x="68.23" y="-7.16" width="10.68" height="7.76"/></g></g>
<g transform="translate(497.9 239.5) scale(1.0 1.035)"><text class="nk"><tspan x="3" y="0" font-size="62.3">U</tspan><tspan x="44.99" y="0" font-size="62.3">1070</tspan></text><g fill="#fff"><rect x="48.03" y="-7.16" width="11.4" height="7.76"/><rect x="68.23" y="-7.16" width="10.68" height="7.76"/></g></g>
</g>
<g class="serif" font-size="84"><text transform="translate(884.1 1494.4) scale(0.91 1.012)" font-size="84" style="font-weight:normal">(</text><text transform="translate(910.2 1494.4)" font-size="84">a</text><text transform="translate(951.5 1494.4) scale(0.91 1.012)" font-size="84" style="font-weight:normal">)</text></g>
<g id="chart-b">
<path d="M292.5 1543.4V2783.4H1787" fill="none" stroke="#000" stroke-width="2.8"/>
<path d="M378 1620.8H531" stroke="#000" stroke-width="5.4" stroke-linecap="round"/>
<path d="M378 1716.2H531" stroke="#f00" stroke-width="5.4" stroke-linecap="round"/>
<g transform="translate(558.6 1640.6) scale(1.0 1.04)"><text class="nk"><tspan x="0" y="0" font-size="67.1">A1070</tspan></text><g fill="#fff"><rect x="51.73" y="-7.65" width="12.28" height="8.25"/><rect x="73.48" y="-7.65" width="11.5" height="8.25"/></g></g>
<g transform="translate(558.6 1751) scale(1.0 1.04)"><text class="nk"><tspan x="3" y="0" font-size="67.1">U</tspan><tspan x="48.46" y="0" font-size="67.1">1070</tspan></text><g fill="#fff"><rect x="51.73" y="-7.65" width="12.28" height="8.25"/><rect x="73.48" y="-7.65" width="11.5" height="8.25"/></g></g>
<text transform="translate(188.7 2316.7) rotate(-90)" font-size="75.6">Potential</text>
<g fill="none" stroke-width="5.8" stroke-linecap="round" stroke-dasharray="18 16.8">
<path d="M1103.8 2093.8H334" stroke="#000"/>
<path d="M1102.3 2106.6V2750" stroke="#000" stroke-width="7.2" stroke-dasharray="16.4 18.4"/>
<path d="M768.8 2241.5H326" stroke="#f00"/>
<path d="M768.7 2236.7V2752" stroke="#f00"/>
</g>
<g stroke-width="1.6" stroke-linejoin="round">
<path d="M303.2 2093.8L336 2078V2109.6Z" fill="#000" stroke="#000"/>
<path d="M294.6 2241.5L327.6 2225.7V2257.3Z" fill="#f00" stroke="#f00"/>
<path d="M1102.3 2780.6L1086.4 2750H1118.2Z" fill="#000" stroke="#000"/>
<path d="M768.8 2784.2L752.9 2752.4H784.7Z" fill="#f00" stroke="#f00"/>
</g>
<g fill="none" stroke-width="8.6" stroke-linecap="round">
<path d="M439.2 2050.9L1633.6 2738" stroke="#f00"/>
<path d="M521.5 2366.8L1555 1844" stroke="#f00"/>
<path d="M681.9 1849.8L1747.8 2465.7" stroke="#000"/>
<path d="M568.7 2390.2L1559 1842.5" stroke="#000"/>
</g>
<circle cx="1101.8" cy="2094.2" r="9.1" fill="#fff" stroke="#000" stroke-width="2"/>
<circle cx="767.3" cy="2241.5" r="9.1" fill="#fff" stroke="#f00" stroke-width="2.2"/>
<text transform="translate(329.1 2192.4) scale(1.0 1.1)" font-size="63.4">E</text><text transform="translate(372.8 2201.8) scale(1.0 0.985)" font-size="44.8">corr</text>
<text transform="translate(336.1 2357.6) scale(1.0 1.1)" font-size="63.4" fill="#f00">E</text><text transform="translate(380.4 2366.4) scale(1.0 0.985)" font-size="44.8" fill="#f00">corr</text>
<text transform="translate(819.7 2739) scale(1.0 1.052)" font-size="64" fill="#f00">i</text><text transform="translate(838.7 2749)" font-size="44.7" fill="#f00">corr</text>
<text transform="translate(1162.7 2739) scale(1.0 1.045)" font-size="64">i</text><text transform="translate(1181.7 2749)" font-size="44.7">corr</text>
<text transform="translate(1090.2 1976.8) rotate(-30.1)" font-size="54.1">Anodic Tafel slope</text>
<text transform="translate(1154.6 2309.4) rotate(30.2)" font-size="53.9">Cathodic Tafel slope</text>
<path d="M1289.8 1914.3L1248 1984.4" stroke="#000" stroke-width="2.2" fill="none"/><path d="M1236.2 2004.2L1236.4 1977.5L1259.6 1991.4Z" fill="#000"/>
<path d="M1289.8 1914.3L1312.3 1948.4" stroke="#000" stroke-width="2.2" fill="none"/><path d="M1323.6 1965.5L1301.9 1955.3L1322.7 1941.5Z" fill="#000"/>
<path d="M1394.7 2369.2L1435.9 2315.6" stroke="#000" stroke-width="2.2" fill="none"/><path d="M1449.3 2298.2L1445.8 2323.3L1426 2308Z" fill="#000"/>
<path d="M1339.4 2445.6L1296.3 2515.4" stroke="#000" stroke-width="2.2" fill="none"/><path d="M1283.7 2535.8L1285.7 2508.8L1306.9 2521.9Z" fill="#000"/>
<text transform="translate(857.4 2926.8) scale(1.0 0.965)" font-size="75.1">log current</text>
</g>
<g class="serif" font-size="84"><text transform="translate(879 3072.2) scale(0.91 1.012)" font-size="84" style="font-weight:normal">(</text><text transform="translate(905 3072.2) scale(1.07 1.03)" font-size="84">b</text><text transform="translate(956.9 3072.2) scale(0.91 1.012)" font-size="84" style="font-weight:normal">)</text></g>
</svg></body></html>
